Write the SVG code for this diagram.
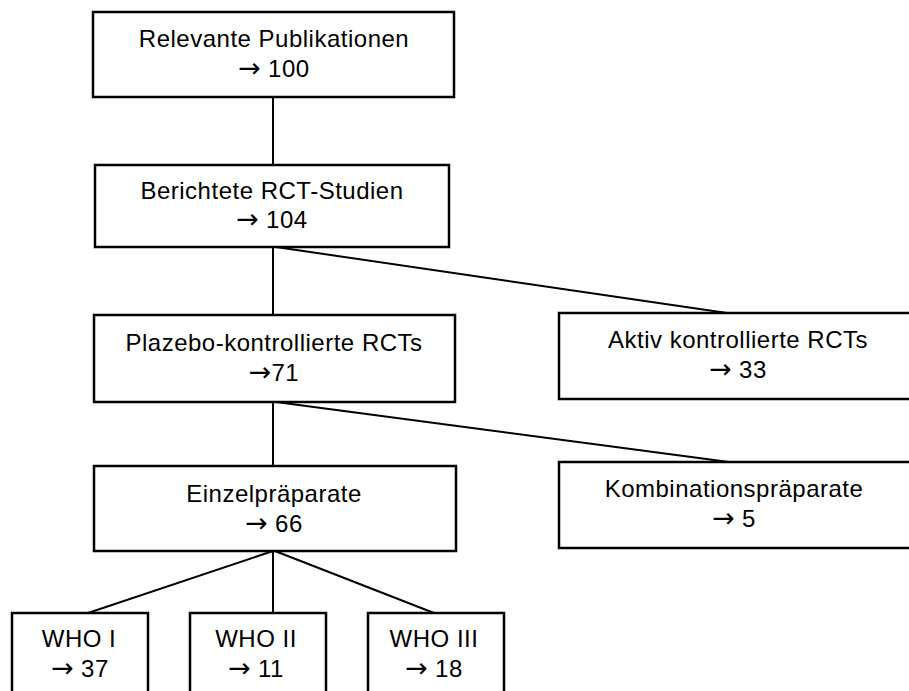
<svg xmlns="http://www.w3.org/2000/svg" width="909" height="691" viewBox="0 0 909 691">
<style>
.box{fill:#fff;stroke:#000;stroke-width:2.5}
.lbl{font-family:"Liberation Sans",Arial,sans-serif;font-size:24px;fill:#000;text-anchor:middle;letter-spacing:0.5px}
.ar{font-family:"DejaVu Sans",sans-serif;font-size:27px;letter-spacing:0}
.con line{stroke:#000;stroke-width:2}
</style>
<rect width="909" height="691" fill="#fff"/>
<g id="connectors" class="con">
<line x1="273" y1="97" x2="273" y2="165"/>
<line x1="273" y1="247" x2="273" y2="315"/>
<line x1="276" y1="247" x2="727" y2="313"/>
<line x1="273" y1="402" x2="273" y2="466"/>
<line x1="276" y1="402" x2="729" y2="462"/>
<line x1="273" y1="551" x2="88" y2="613"/>
<line x1="273" y1="551" x2="273" y2="613"/>
<line x1="275" y1="551" x2="434" y2="613"/>
</g>
<g id="n1">
<rect class="box" x="93" y="12" width="361" height="85"/>
<text class="lbl" x="274" y="47">Relevante Publikationen</text>
<text class="lbl" x="274" y="77"><tspan class="ar">→</tspan> 100</text>
</g>
<g id="n2">
<rect class="box" x="95" y="165" width="354" height="82"/>
<text class="lbl" x="272" y="199">Berichtete RCT-Studien</text>
<text class="lbl" x="272" y="228"><tspan class="ar">→</tspan> 104</text>
</g>
<g id="n3">
<rect class="box" x="94" y="315" width="361" height="87"/>
<text class="lbl" x="274" y="351">Plazebo-kontrollierte RCTs</text>
<text class="lbl" x="274" y="381"><tspan class="ar">→</tspan>71</text>
</g>
<g id="n4">
<rect class="box" x="559" y="313" width="360" height="86"/>
<text class="lbl" x="738" y="348">Aktiv kontrollierte RCTs</text>
<text class="lbl" x="738" y="378"><tspan class="ar">→</tspan> 33</text>
</g>
<g id="n5">
<rect class="box" x="94" y="466" width="362" height="85"/>
<text class="lbl" x="274" y="502">Einzelpräparate</text>
<text class="lbl" x="274" y="532"><tspan class="ar">→</tspan> 66</text>
</g>
<g id="n6">
<rect class="box" x="559" y="462" width="360" height="86"/>
<text class="lbl" x="734" y="497">Kombinationspräparate</text>
<text class="lbl" x="734" y="527"><tspan class="ar">→</tspan> 5</text>
</g>
<g id="n7">
<rect class="box" x="12" y="613" width="136" height="90"/>
<text class="lbl" x="79" y="647">WHO I</text>
<text class="lbl" x="80" y="677"><tspan class="ar">→</tspan> 37</text>
</g>
<g id="n8">
<rect class="box" x="190" y="613" width="136" height="90"/>
<text class="lbl" x="256" y="647">WHO II</text>
<text class="lbl" x="256" y="677"><tspan class="ar">→</tspan> 11</text>
</g>
<g id="n9">
<rect class="box" x="368" y="613" width="136" height="90"/>
<text class="lbl" x="434" y="647">WHO III</text>
<text class="lbl" x="434" y="677"><tspan class="ar">→</tspan> 18</text>
</g>
</svg>
